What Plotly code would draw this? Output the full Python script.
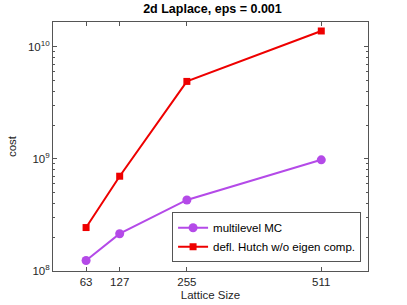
import plotly.graph_objects as go

lattice = [63, 127, 255, 511]
mlmc_cost = [1.24e8, 2.15e8, 4.3e8, 9.8e8]
defl_cost = [2.44e8, 7.0e8, 4.9e9, 1.38e10]
x_ticks = [63, 127, 255, 511]
y_tickvals = [1e8, 1e9, 1e10]
y_ticktext = ["10<sup>8</sup>", "10<sup>9</sup>", "10<sup>10</sup>"]

fig = go.Figure()
fig.add_trace(go.Scatter(
    x=lattice, y=mlmc_cost, mode="lines+markers", name="multilevel MC",
    line=dict(color="#b44ae8", width=2),
    marker=dict(symbol="circle", size=9, color="#b44ae8"),
))
fig.add_trace(go.Scatter(
    x=lattice, y=defl_cost, mode="lines+markers", name="defl. Hutch w/o eigen comp.",
    line=dict(color="#ee0000", width=2),
    marker=dict(symbol="square", size=7, color="#ee0000"),
))

axis_color = "#555555"
fig.update_layout(
    width=407, height=305,
    margin=dict(l=53, r=39, t=22, b=34, autoexpand=False),
    paper_bgcolor="white", plot_bgcolor="white",
    font=dict(family="Liberation Sans, Arial, sans-serif", size=11.5, color="#262626"),
    title=dict(text="<b>2d Laplace, eps = 0.001</b>", x=0.522, xanchor="center",
               y=0.985, yanchor="top", font=dict(size=12.5, color="black")),
    xaxis=dict(
        range=[0, 600], tickvals=x_ticks, ticktext=[str(v) for v in x_ticks],
        ticks="inside", ticklen=4, tickcolor=axis_color,
        showline=True, linecolor=axis_color, linewidth=1, mirror="ticks",
        showgrid=False, zeroline=False, automargin=False,
        title=dict(text="Lattice Size", standoff=4, font=dict(size=11.5)),
    ),
    yaxis=dict(
        type="log", range=[8, 10.22],
        tickvals=y_tickvals, ticktext=y_ticktext,
        ticks="inside", ticklen=4, tickcolor=axis_color,
        minor=dict(ticks="inside", ticklen=2, tickcolor=axis_color,
                   tickvals=[k * 10**e for e in (8, 9) for k in range(2, 10)] + [2e10]),
        showline=True, linecolor=axis_color, linewidth=1, mirror="ticks",
        showgrid=False, zeroline=False, automargin=False,
        title=dict(text="cost", standoff=8, font=dict(size=11.5)),
    ),
    legend=dict(
        x=0.978, y=0.035, xanchor="right", yanchor="bottom",
        bgcolor="white", bordercolor=axis_color, borderwidth=1,
        font=dict(size=11.5, color="black"),
        tracegroupgap=0, itemwidth=30,
    ),
    showlegend=True,
)

fig.write_html("out.html", config={"displayModeBar": False},
               post_script="document.body.style.margin='0px';")
